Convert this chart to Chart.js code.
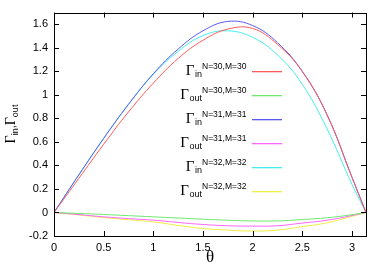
<!DOCTYPE html>
<html>
<head>
<meta charset="utf-8">
<script src="https://cdn.jsdelivr.net/npm/chart.js@4.4.1/dist/chart.umd.min.js"></script>
<style>
  html, body { margin: 0; padding: 0; background: #fff; }
  #wrap { width: 382px; height: 268px; }
</style>
</head>
<body>
<div id="wrap"><canvas id="myChart" width="382" height="268"></canvas></div>
<script>
// values
const theta = [0, 0.25, 0.5, 0.75, 1.0, 1.25, 1.5, 1.75, 2.0, 2.25, 2.5, 2.75, 3.0, 3.1416];

const inN30  = [0, 0.29, 0.58, 0.855, 1.10, 1.31, 1.465, 1.56, 1.565, 1.43, 1.2, 0.83, 0.3, 0];
const outN30 = [0, -0.008, -0.017, -0.027, -0.037, -0.047, -0.057, -0.066, -0.072, -0.072, -0.06, -0.045, -0.019, 0];
const inN31  = [0, 0.32, 0.63, 0.92, 1.18, 1.39, 1.545, 1.625, 1.59, 1.445, 1.2, 0.83, 0.3, 0];
const outN31 = [0, -0.018, -0.037, -0.052, -0.065, -0.085, -0.102, -0.113, -0.116, -0.113, -0.09, -0.066, -0.026, 0];
const inN32  = [0, 0.32, 0.63, 0.92, 1.175, 1.37, 1.505, 1.545, 1.49, 1.34, 1.09, 0.71, 0.24, 0];
const outN32 = [0, -0.021, -0.043, -0.062, -0.08, -0.11, -0.136, -0.15, -0.158, -0.15, -0.12, -0.088, -0.033, 0];

const xTicks = [0, 0.5, 1, 1.5, 2, 2.5, 3];
const yTicks = [-0.2, 0, 0.2, 0.4, 0.6, 0.8, 1, 1.2, 1.4, 1.6];

const seriesSub = ['in', 'out', 'in', 'out', 'in', 'out'];
const seriesSup = ['N=30,M=30', 'N=30,M=30', 'N=31,M=31', 'N=31,M=31', 'N=32,M=32', 'N=32,M=32'];
const seriesColor = ['#ff5a5a', '#6ee86e', '#5a5af0', '#ff66ff', '#44eeee', '#eeee44'];
const seriesData = [inN30, outN30, inN31, outN31, inN32, outN32];

function toPoints(ys) {
    return theta.map(function (t, i) { return { x: t, y: ys[i] }; });
}

const datasets = seriesData.map(function (ys, i) {
    return {
        label: 'G' + seriesSub[i] + ' ' + seriesSup[i],
        data: toPoints(ys),
        borderColor: seriesColor[i],
        borderWidth: 1,
        pointRadius: 0,
        fill: false,
        tension: 0.4
    };
});

// gamma with subscript + superscript, right edge of the subscript at x
function drawGamma(ctx, x, y, sub, sup) {
    ctx.textBaseline = 'alphabetic';
    ctx.font = '9px "Liberation Sans"';
    ctx.textAlign = 'right';
    ctx.fillText(sub, x, y + 6);
    let subW = ctx.measureText(sub).width;
    ctx.font = '15px "Liberation Serif"';
    ctx.fillText('\u0393', x - subW - 0.5, y + 4);
    if (sup) {
        ctx.font = '8.5px "Liberation Sans"';
        ctx.textAlign = 'left';
        ctx.fillText(sup, x, y - 2);
    }
}

const framePlugin = {
    id: 'frame',
    afterDraw: function (chart) {
        const ctx = chart.ctx;
        const a = chart.chartArea;
        const xs = chart.scales.x, ys = chart.scales.y;
        ctx.save();
        ctx.strokeStyle = '#000';
        ctx.lineWidth = 1;
        ctx.strokeRect(Math.round(a.left) + 0.5, Math.round(a.top) + 0.5,
            Math.round(a.right - a.left), Math.round(a.bottom - a.top));
        ctx.beginPath();
        xTicks.forEach(function (v) {
            let px = Math.round(xs.getPixelForValue(v)) + 0.5;
            ctx.moveTo(px, a.bottom); ctx.lineTo(px, a.bottom - 5);
            ctx.moveTo(px, a.top); ctx.lineTo(px, a.top + 5);
        });
        yTicks.forEach(function (v) {
            let py = Math.round(ys.getPixelForValue(v)) + 0.5;
            ctx.moveTo(a.left, py); ctx.lineTo(a.left + 5, py);
            ctx.moveTo(a.right, py); ctx.lineTo(a.right - 5, py);
        });
        ctx.stroke();

        // legend
        for (let i = 0; i < seriesSub.length; i++) {
            let y = 71 + 24 * i;
            ctx.fillStyle = '#000';
            drawGamma(ctx, 202, y, seriesSub[i], seriesSup[i]);
            ctx.fillStyle = seriesColor[i];
            ctx.fillRect(252, y, 30, 1.3);
        }

        // y title  Γin,Γout
        ctx.translate(15, 124);
        ctx.rotate(-Math.PI / 2);
        ctx.fillStyle = '#000';
        ctx.textBaseline = 'alphabetic';
        let parts = [['\u0393', '14px "Liberation Serif"', 0], ['in', '9px "Liberation Sans"', 3],
                     [',', '11px "Liberation Sans"', 0],
                     ['\u0393', '14px "Liberation Serif"', 0], ['out', '9px "Liberation Sans"', 3]];
        let total = 0;
        parts.forEach(function (p) { ctx.font = p[1]; total += ctx.measureText(p[0]).width; });
        let cx = -total / 2;
        ctx.textAlign = 'left';
        parts.forEach(function (p) {
            ctx.font = p[1];
            ctx.fillText(p[0], cx, p[2]);
            cx += ctx.measureText(p[0]).width;
        });
        ctx.restore();
    }
};

new Chart('myChart', {
    type: 'line',
    data: { datasets: datasets },
    options: {
        responsive: false,
        animation: false,
        layout: { padding: { top: 12, right: 16, left: 0, bottom: 0 } },
        plugins: { legend: { display: false }, tooltip: { enabled: false } },
        scales: {
            x: {
                type: 'linear',
                min: 0,
                max: 3.1416,
                afterBuildTicks: function (s) { s.ticks = xTicks.map(function (v) { return { value: v }; }); },
                afterFit: function (s) { s.height = 32; },
                grid: { display: false, drawTicks: false },
                border: { display: false },
                ticks: {
                    color: '#000', padding: 5, maxRotation: 0,
                    font: { family: 'Liberation Sans', size: 11 },
                    callback: function (v) { return String(Math.round(v * 10) / 10); }
                },
                title: {
                    display: true, text: '\u03b8', color: '#000', padding: 0,
                    font: { family: 'Liberation Serif', size: 17 }
                }
            },
            y: {
                min: -0.2,
                max: 1.7,
                afterBuildTicks: function (s) { s.ticks = yTicks.map(function (v) { return { value: v }; }); },
                afterFit: function (s) { s.width = 54; },
                grid: { display: false, drawTicks: false },
                border: { display: false },
                ticks: {
                    color: '#000', padding: 6,
                    font: { family: 'Liberation Sans', size: 11 },
                    callback: function (v) { return String(Math.round(v * 10) / 10); }
                }
            }
        }
    },
    plugins: [framePlugin]
});
</script>
</body>
</html>
